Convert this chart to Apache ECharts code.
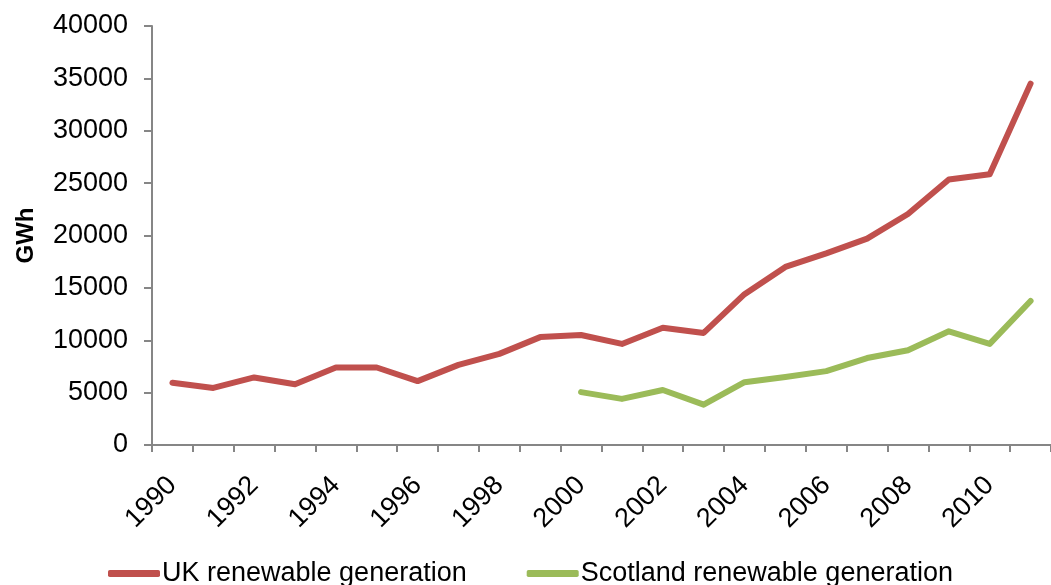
<!DOCTYPE html>
<html>
<head>
<meta charset="utf-8">
<script src="https://cdn.jsdelivr.net/npm/echarts@6/dist/echarts.min.js"></script>
<style>
  html, body { margin: 0; padding: 0; background: #fff; }
  #chart { width: 1051px; height: 585px; }
</style>
</head>
<body>
<div id="chart"></div>
<script>
const years = ['1990', '1991', '1992', '1993', '1994', '1995', '1996', '1997', '1998', '1999', '2000',
  '2001', '2002', '2003', '2004', '2005', '2006', '2007', '2008', '2009', '2010', '2011'];

const ukGeneration = [5950, 5450, 6450, 5800, 7400, 7400, 6100, 7650, 8700, 10300, 10500,
  9650, 11200, 10700, 14400, 17000, 18300, 19700, 22050, 25350, 25850, 34500];

const scotlandGeneration = [null, null, null, null, null, null, null, null, null, null, 5050,
  4400, 5250, 3850, 6000, 6500, 7050, 8300, 9050, 10850, 9650, 13750];

const yTicks = { min: 0, max: 40000, interval: 5000 };

const font = "'Liberation Sans', Arial, sans-serif";
const axisGrey = '#868686';

const chart = echarts.init(document.getElementById('chart'));

chart.setOption({
  animation: false,
  color: ['#c0504d', '#9bbb59'],
  textStyle: { fontFamily: font, color: '#000' },
  grid: { left: 152, top: 26, width: 915, height: 419, containLabel: false },
  legend: {
    left: 103,
    top: 555,
    itemWidth: 52,
    itemHeight: 7,
    itemGap: 60,
    icon: 'roundRect',
    textStyle: { fontFamily: font, fontSize: 27, color: '#000', padding: [0, 0, 0, -3] },
    data: ['UK renewable generation', 'Scotland renewable generation']
  },
  xAxis: {
    type: 'category',
    data: years,
    boundaryGap: true,
    axisLine: { lineStyle: { color: axisGrey, width: 2 } },
    axisTick: { show: true, interval: 0, length: 7, lineStyle: { color: axisGrey, width: 2 } },
    axisLabel: {
      interval: 1,
      rotate: 45,
      margin: 36,
      fontSize: 27,
      fontFamily: font,
      color: '#000'
    },
    splitLine: { show: false }
  },
  yAxis: {
    type: 'value',
    min: yTicks.min,
    max: yTicks.max,
    interval: yTicks.interval,
    name: 'GWh',
    nameLocation: 'middle',
    nameGap: 114,
    nameRotate: 90,
    nameTextStyle: { fontFamily: font, fontSize: 24, fontWeight: 'bold', color: '#000' },
    axisLine: { show: true, lineStyle: { color: axisGrey, width: 2 } },
    axisTick: { show: true, length: 8, lineStyle: { color: axisGrey, width: 2 } },
    axisLabel: {
      margin: 24,
      fontSize: 27,
      fontFamily: font,
      color: '#000',
      formatter: (v) => String(v)
    },
    splitLine: { show: false }
  },
  series: [
    {
      name: 'UK renewable generation',
      type: 'line',
      data: ukGeneration,
      showSymbol: false,
      symbol: 'none',
      lineStyle: { width: 6, color: '#c0504d', cap: 'round', join: 'round' },
      itemStyle: { color: '#c0504d' }
    },
    {
      name: 'Scotland renewable generation',
      type: 'line',
      data: scotlandGeneration,
      showSymbol: false,
      symbol: 'none',
      lineStyle: { width: 6, color: '#9bbb59', cap: 'round', join: 'round' },
      itemStyle: { color: '#9bbb59' }
    }
  ]
});
</script>
</body>
</html>
